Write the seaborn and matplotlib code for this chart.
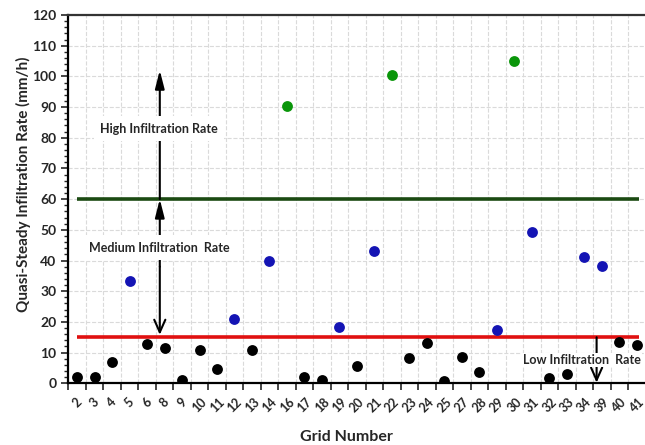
import numpy as np
import pandas as pd
import seaborn as sns
import matplotlib.pyplot as plt
from matplotlib.ticker import MultipleLocator, FixedLocator

# data
grids = ['2', '3', '4', '5', '6', '8', '9', '10', '11', '12', '13', '14', '16',
         '17', '18', '19', '20', '21', '22', '23', '24', '25', '27', '28', '29',
         '30', '31', '32', '33', '34', '39', '40', '41']
rates = [2.0, 2.0, 6.9, 33.4, 12.9, 11.5, 1.0, 10.9, 4.8, 21.1, 10.9, 39.9, 90.5,
         2.0, 1.1, 18.2, 5.6, 43.2, 100.6, 8.2, 13.1, 0.7, 8.4, 3.6, 17.4,
         105.0, 49.2, 1.7, 3.1, 41.3, 38.2, 13.4, 12.4]
low_limit = 15
high_limit = 60

df = pd.DataFrame({'grid': grids, 'rate': rates})
df['cls'] = np.where(df['rate'] > high_limit, 'High',
                     np.where(df['rate'] > low_limit, 'Medium', 'Low'))
colors = {'Low': 'black', 'Medium': '#1414b4', 'High': '#0a960a'}

sns.set_style('white')
plt.rcParams['font.family'] = ['Lato', 'DejaVu Sans']
plt.rcParams['font.weight'] = 'bold'

fig = plt.figure(figsize=(6.45, 4.45), dpi=100)
ax = fig.add_axes([0.1059, 0.1387, 0.895, 0.8276])

sns.stripplot(data=df, x='grid', y='rate', hue='cls', order=grids, palette=colors,
              jitter=False, size=7.8, legend=False, ax=ax, zorder=4)

# threshold lines
n = len(grids)
ax.hlines(high_limit, 0, n - 0.9, color='#1b4a12', lw=2.6, zorder=3)
ax.hlines(low_limit, 0, n - 0.9, color='#e01010', lw=2.6, zorder=3)

# arrows and labels
up = dict(arrowstyle='-|>,head_length=1.1,head_width=0.28', color='black', lw=1.5,
          mutation_scale=10, shrinkA=0, shrinkB=0)
down = dict(arrowstyle='->,head_length=0.9,head_width=0.4', color='black', lw=1.5,
            mutation_scale=10, shrinkA=0, shrinkB=0)
ax.annotate('', xy=(4.73, 102), xytext=(4.73, 60), arrowprops=up, zorder=5)
ax.annotate('', xy=(4.73, 60), xytext=(4.73, 38), arrowprops=up, zorder=5)
ax.annotate('', xy=(4.73, 15.8), xytext=(4.73, 38), arrowprops=down, zorder=5)
ax.annotate('', xy=(29.7, 0.2), xytext=(29.7, 15), arrowprops=down, zorder=5)
box = dict(facecolor='white', edgecolor='none', pad=4.5)
ax.text(4.68, 83.0, 'High Infiltration Rate', ha='center', va='center',
        fontsize=9, fontweight='bold', bbox=box, zorder=6)
ax.text(4.68, 44.2, 'Medium Infiltration  Rate', ha='center', va='center',
        fontsize=9, fontweight='bold', bbox=box, zorder=6)
ax.text(28.85, 7.6, 'Low Infiltration  Rate', ha='center', va='center',
        fontsize=9, fontweight='bold', bbox=dict(facecolor='white', edgecolor='none', pad=1), zorder=6)

# axes
ax.set_ylim(0, 120)
ax.set_xlim(-0.5, n - 0.5)
ax.yaxis.set_major_locator(MultipleLocator(10))
ax.yaxis.set_minor_locator(MultipleLocator(2))
ax.xaxis.set_minor_locator(FixedLocator(np.arange(n) - 0.5))
ax.tick_params(axis='x', which='major', length=0, pad=9, labelsize=9)
ax.tick_params(axis='x', which='minor', length=5, width=1.2, direction='out', bottom=True)
ax.tick_params(axis='y', which='major', length=5, width=1.2, direction='out', left=True, labelsize=10)
ax.tick_params(axis='y', which='minor', length=3, width=1, direction='out', left=True)
plt.setp(ax.get_xticklabels(), rotation=45, ha='center', va='top', fontweight='bold')
plt.setp(ax.get_yticklabels(), fontweight='bold')

ax.grid(True, axis='y', which='major', color='#dadada', ls='--', lw=0.8)
ax.grid(True, axis='x', which='minor', color='#dadada', ls='--', lw=0.8)
ax.set_axisbelow(True)

for side in ['left', 'bottom']:
    ax.spines[side].set_color('black')
    ax.spines[side].set_linewidth(1.6)
ax.spines['top'].set_color('#333333')
ax.spines['top'].set_linewidth(1.6)
ax.spines['right'].set_visible(False)

ax.set_xlabel('')
ax.set_ylabel('')
fig.text(0.537, 0.018, 'Grid Number', ha='center', va='center', fontsize=11.5, fontweight='bold')
fig.text(0.037, 0.585, 'Quasi-Steady Infiltration Rate (mm/h)', rotation=90,
         ha='center', va='center', fontsize=11, fontweight='bold')

fig.savefig('out.png', dpi=100)
